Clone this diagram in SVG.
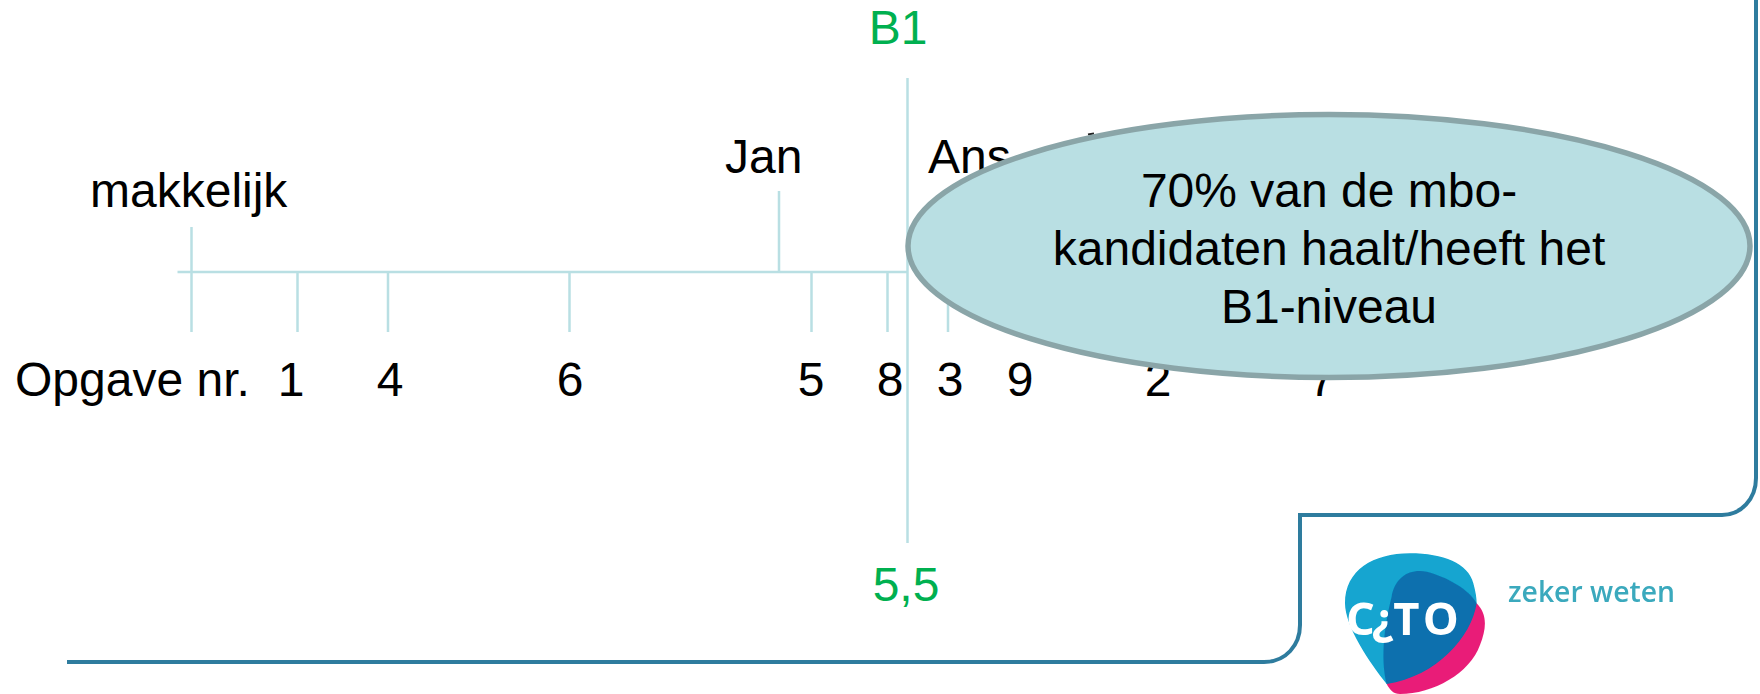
<svg xmlns="http://www.w3.org/2000/svg" width="1760" height="694" viewBox="0 0 1760 694">
<style>
text{font-family:"Liberation Sans",Arial,sans-serif;font-size:48px;fill:#000}
.g{fill:#00b050}
.m{text-anchor:middle}
.l{stroke:#b9dfe3;stroke-width:2.500;fill:none}
</style>
<defs><filter id="soft" x="-5%" y="-5%" width="110%" height="110%"><feGaussianBlur stdDeviation="0.7"/></filter></defs>
<rect width="1760" height="694" fill="#fff"/>
<g id="frame"><path d="M67 662H1264C1286 662 1300 645 1300 625V515H1722C1741 515 1756 499 1756 478V0" fill="none" stroke="#2e7b9e" stroke-width="4" filter="url(#soft)"/></g>
<g id="connectors" class="l">
<path d="M177.500 272H908"/>
<path d="M191.500 227V332M297.500 272V332M388 272V332M569.500 272V332M779 191V272M811.500 272V332M887.500 272V332M948 272V332"/>
<path d="M907.500 78V543"/>
</g>
<g id="labels">
<text x="90" y="207">makkelijk</text>
<text x="725" y="173">Jan</text>
<text x="928" y="173">Ans</text>
<text x="15" y="396">Opgave nr.</text>
<text class="m" x="291" y="396">1</text>
<text class="m" x="390" y="396">4</text>
<text class="m" x="570" y="396">6</text>
<text class="m" x="811" y="396">5</text>
<text class="m" x="890" y="396">8</text>
<text class="m" x="950" y="396">3</text>
<text class="m" x="1020" y="396">9</text>
<text class="m" x="1158" y="396">2</text>
<text class="m" x="1322" y="396">7</text>
<text class="g m" x="898" y="44">B1</text>
<text class="g m" x="906" y="601">5,5</text>
</g>
<path d="M1088 134.500L1094 133.500" stroke="#222" stroke-width="2"/>
<g id="callout">
<ellipse cx="1329" cy="246" rx="421" ry="131.500" fill="#b9dfe3" stroke="#8aa5a8" stroke-width="5.500"/>
<text class="m" x="1329" y="207">70% van de mbo-</text>
<text class="m" x="1329" y="265">kandidaten haalt/heeft het</text>
<text class="m" x="1329" y="323">B1-niveau</text>
</g>
<g id="logo">
<g filter="url(#soft)" transform="translate(1330 540) scale(.3333)">
<path d="M170 432C120 370 45 260 45 190C45 90 130 40 240 40C340 40 415 70 430 130C437 155 440 175 440 190Z" fill="#12a5d0"/>
<path d="M440 190C470 220 472 260 450 315C420 400 310 462 210 462C190 462 180 450 170 432Z" fill="#e91e78"/>
<path d="M170 432C150 350 165 250 185 170C195 110 240 85 290 95C350 110 420 150 440 190C425 290 320 410 170 432Z" fill="#0a6fae"/>
<text x="48 125 190 278" y="285" style="font-family:'Open Sans',sans-serif;font-weight:700;font-size:136px;fill:#fff">C¿TO</text>
</g>
<text x="1508" y="602" textLength="167" lengthAdjust="spacingAndGlyphs" filter="url(#soft)" style="font-family:'Open Sans',sans-serif;font-weight:600;font-size:28px;fill:#3aa9bd">zeker weten</text>
</g>
</svg>
